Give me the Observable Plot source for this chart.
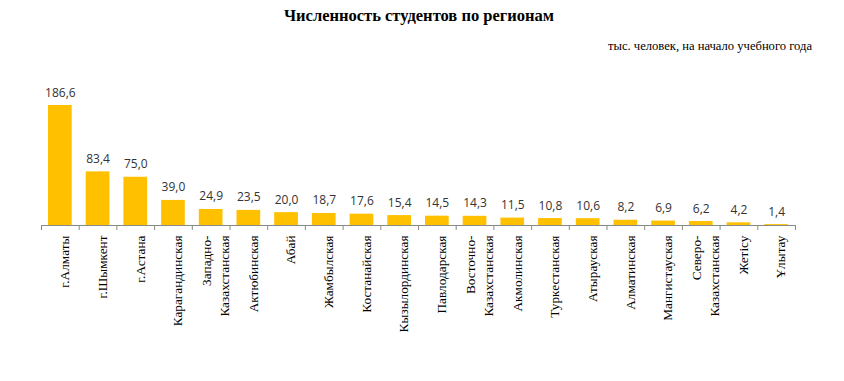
<!DOCTYPE html>
<html>
<head>
<meta charset="utf-8">
<script src="https://cdn.jsdelivr.net/npm/d3@7"></script>
<script src="https://cdn.jsdelivr.net/npm/@observablehq/plot@0.6"></script>
<style>
  html, body { margin: 0; padding: 0; background: #fff; }
  #wrap { width: 844px; height: 381px; position: relative; overflow: hidden; }
  #title { height: 32px; line-height: 32px; text-align: center; font-family: "Liberation Serif", serif; font-weight: bold; font-size: 16.5px; color: #000; padding-right: 6px; }
  #subtitle { height: 28px; line-height: 28px; text-align: right; font-family: "Liberation Serif", serif; font-size: 12.6px; color: #000; padding-right: 32px; }
  svg { display: block; }
</style>
</head>
<body>
<div id="wrap">
  <div id="title">Численность студентов по регионам</div>
  <div id="subtitle">тыс. человек, на начало учебного года</div>
  <div id="chart"></div>
</div>
<script>
const regions = [
  "г.Алматы", "г.Шымкент", "г.Астана", "Карагандинская", "Западно-\nКазахстанская",
  "Актюбинская", "Абай", "Жамбылская", "Костанайская", "Кызылординская",
  "Павлодарская", "Восточно-\nКазахстанская", "Акмолинская", "Туркестанская", "Атырауская",
  "Алматинская", "Мангистауская", "Северо-\nКазахстанская", "Жетісу", "Ұлытау"
];
const students = [186.6, 83.4, 75.0, 39.0, 24.9, 23.5, 20.0, 18.7, 17.6, 15.4, 14.5, 14.3, 11.5, 10.8, 10.6, 8.2, 6.9, 6.2, 4.2, 1.4];

const data = regions.map((r, i) => ({region: r, value: students[i], label: d3.format(".1f")(students[i]).replace(".", ",")}));

const width = 844, height = 321;
const marginLeft = 41, marginRight = 49, marginTop = 45, marginBottom = 156;
const step = (width - marginLeft - marginRight) / regions.length;
const barInset = 7;

const chart = Plot.plot({
  width, height, marginLeft, marginRight, marginTop, marginBottom,
  x: {domain: regions, padding: 0, round: false, axis: null},
  y: {domain: [0, 186.6], axis: null},
  marks: [
    Plot.barY(data, {x: "region", y: "value", fill: "#FFC000", insetLeft: barInset, insetRight: barInset}),
    Plot.ruleY([0], {stroke: "#898989", strokeWidth: 1}),
    Plot.axisX({ticks: regions, tickSize: 5, tickFormat: () => "", label: null, stroke: "#898989", dx: -step / 2}),
    Plot.axisX({ticks: [regions[regions.length - 1]], tickSize: 5, tickFormat: () => "", label: null, stroke: "#898989", dx: step / 2}),
    Plot.text(data, {x: "region", y: "value", text: "label", dy: -9, lineAnchor: "bottom", fontFamily: "Open Sans", fontSize: 12, fill: "#333"}),
    Plot.text(data, {x: "region", y: () => 0, text: "region", rotate: -90, textAnchor: "end", dy: 10, dx: 3, lineHeight: 1.35, fontFamily: "Liberation Serif", fontSize: 13.3, fill: "#000"})
  ]
});
document.getElementById("chart").appendChild(chart);
</script>
</body>
</html>
